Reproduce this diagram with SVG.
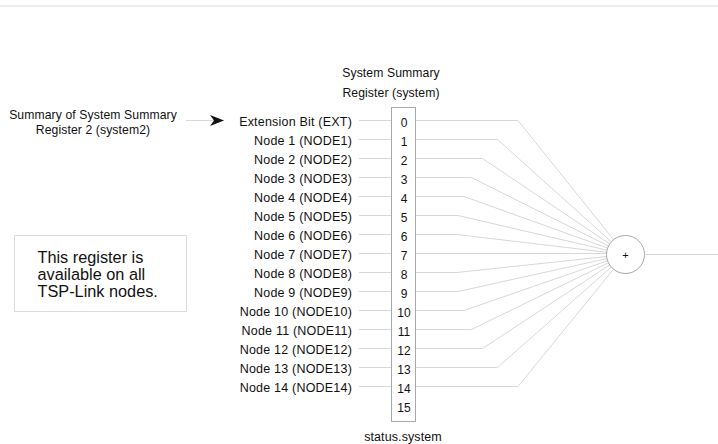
<svg xmlns="http://www.w3.org/2000/svg" width="718" height="444" viewBox="0 0 718 444">
<defs>
<style>
text{font-family:"Liberation Sans",Arial,sans-serif;fill:#111;}
.lbl{font-size:12.5px;text-anchor:end;letter-spacing:0.2px;}
.num{font-size:12px;text-anchor:middle;}
.cap{font-size:12.2px;text-anchor:middle;letter-spacing:0.1px;}
.note{font-size:16.3px;}
.wire{fill:none;stroke:#d8d8d8;stroke-width:1;}
.box{fill:#fff;stroke:#a8a8a8;stroke-width:1;}
</style>
<marker id="arr" markerWidth="14" markerHeight="12" refX="14" refY="6" orient="auto" markerUnits="userSpaceOnUse">
<path d="M0,0.5 L14,6 L0,11.5 L4,6 Z" fill="#111"/>
</marker>
</defs>
<rect width="718" height="444" fill="#fff"/>
<line x1="0" y1="6" x2="718" y2="6" stroke="#e6e6e6" stroke-width="1.5"/>

<g id="connectors">
<line class="wire" x1="186" y1="120.5" x2="224" y2="120.5" marker-end="url(#arr)"/>
<line class="wire" x1="359" y1="120.5" x2="391.5" y2="120.5"/>
<line class="wire" x1="359" y1="139.5" x2="391.5" y2="139.5"/>
<line class="wire" x1="359" y1="158.5" x2="391.5" y2="158.5"/>
<line class="wire" x1="359" y1="177.5" x2="391.5" y2="177.5"/>
<line class="wire" x1="359" y1="196.5" x2="391.5" y2="196.5"/>
<line class="wire" x1="359" y1="215.5" x2="391.5" y2="215.5"/>
<line class="wire" x1="359" y1="234.5" x2="391.5" y2="234.5"/>
<line class="wire" x1="359" y1="253.5" x2="391.5" y2="253.5"/>
<line class="wire" x1="359" y1="272.5" x2="391.5" y2="272.5"/>
<line class="wire" x1="359" y1="291.5" x2="391.5" y2="291.5"/>
<line class="wire" x1="359" y1="310.5" x2="391.5" y2="310.5"/>
<line class="wire" x1="359" y1="329.5" x2="391.5" y2="329.5"/>
<line class="wire" x1="359" y1="348.5" x2="391.5" y2="348.5"/>
<line class="wire" x1="359" y1="367.5" x2="391.5" y2="367.5"/>
<line class="wire" x1="359" y1="386.5" x2="391.5" y2="386.5"/>
<polyline class="wire" points="415.5,120.5 518,120.5 625.5,254.5"/>
<polyline class="wire" points="415.5,139.5 497.5,139.5 625.5,254.5"/>
<polyline class="wire" points="415.5,158.5 482.5,158.5 625.5,254.5"/>
<polyline class="wire" points="415.5,177.5 471.5,177.5 625.5,254.5"/>
<polyline class="wire" points="415.5,196.5 464,196.5 625.5,254.5"/>
<polyline class="wire" points="415.5,215.5 458,215.5 625.5,254.5"/>
<polyline class="wire" points="415.5,234.5 457,234.5 625.5,254.5"/>
<polyline class="wire" points="415.5,253.5 625.5,253.5"/>
<polyline class="wire" points="415.5,272.5 457,272.5 625.5,254.5"/>
<polyline class="wire" points="415.5,291.5 458,291.5 625.5,254.5"/>
<polyline class="wire" points="415.5,310.5 464,310.5 625.5,254.5"/>
<polyline class="wire" points="415.5,329.5 471.5,329.5 625.5,254.5"/>
<polyline class="wire" points="415.5,348.5 482.5,348.5 625.5,254.5"/>
<polyline class="wire" points="415.5,367.5 497.5,367.5 625.5,254.5"/>
<polyline class="wire" points="415.5,386.5 518,386.5 625.5,254.5"/>
<line class="wire" x1="644.5" y1="254.5" x2="718" y2="254.5"/>
</g>

<g id="source">
<text class="cap" x="93" y="118.5">Summary of System Summary</text>
<text class="cap" x="93" y="134">Register 2 (system2)</text>
</g>

<g id="note">
<rect x="14.5" y="235.5" width="172" height="76" fill="#fff" stroke="#dcdcdc"/>
<text class="note" x="37.5" y="263">This register is</text>
<text class="note" x="37.5" y="280">available on all</text>
<text class="note" x="37.5" y="297">TSP-Link nodes.</text>
</g>

<g id="labels">
<text class="lbl" x="352" y="126">Extension Bit (EXT)</text>
<text class="lbl" x="352" y="145">Node 1 (NODE1)</text>
<text class="lbl" x="352" y="164">Node 2 (NODE2)</text>
<text class="lbl" x="352" y="183">Node 3 (NODE3)</text>
<text class="lbl" x="352" y="202">Node 4 (NODE4)</text>
<text class="lbl" x="352" y="221">Node 5 (NODE5)</text>
<text class="lbl" x="352" y="240">Node 6 (NODE6)</text>
<text class="lbl" x="352" y="259">Node 7 (NODE7)</text>
<text class="lbl" x="352" y="278">Node 8 (NODE8)</text>
<text class="lbl" x="352" y="297">Node 9 (NODE9)</text>
<text class="lbl" x="352" y="316">Node 10 (NODE10)</text>
<text class="lbl" x="352" y="335">Node 11 (NODE11)</text>
<text class="lbl" x="352" y="354">Node 12 (NODE12)</text>
<text class="lbl" x="352" y="373">Node 13 (NODE13)</text>
<text class="lbl" x="352" y="392">Node 14 (NODE14)</text>
</g>

<g id="register">
<text class="cap" x="391" y="77">System Summary</text>
<text class="cap" x="391" y="97">Register (system)</text>
<rect class="box" x="391.5" y="107.5" width="24" height="314"/>
<text class="num" x="404" y="127">0</text>
<text class="num" x="404" y="146">1</text>
<text class="num" x="404" y="165">2</text>
<text class="num" x="404" y="184">3</text>
<text class="num" x="404" y="203">4</text>
<text class="num" x="404" y="222">5</text>
<text class="num" x="404" y="241">6</text>
<text class="num" x="404" y="260">7</text>
<text class="num" x="404" y="279">8</text>
<text class="num" x="404" y="298">9</text>
<text class="num" x="404" y="317">10</text>
<text class="num" x="404" y="336">11</text>
<text class="num" x="404" y="355">12</text>
<text class="num" x="404" y="374">13</text>
<text class="num" x="404" y="393">14</text>
<text class="num" x="404" y="412">15</text>
<text class="cap" x="403" y="441" style="font-size:12.5px">status.system</text>
</g>

<g id="or-gate">
<circle cx="625.5" cy="254.5" r="19" fill="#fff" stroke="#a8a8a8"/>
<text x="625.5" y="258.5" style="font-size:11px;text-anchor:middle">+</text>
</g>
</svg>
